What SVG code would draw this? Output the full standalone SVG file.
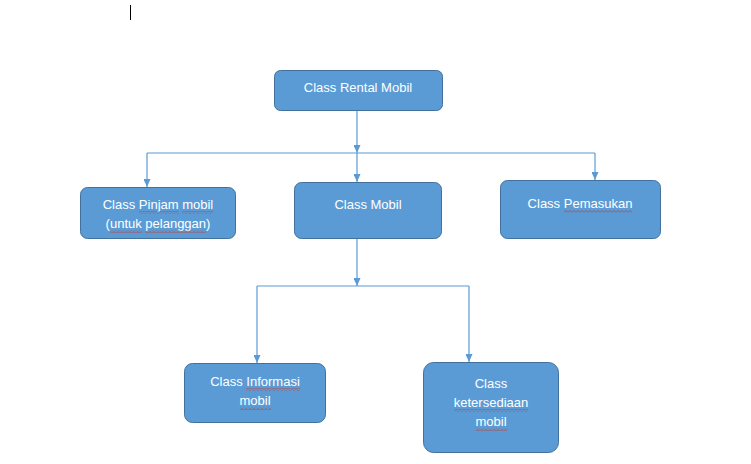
<svg xmlns="http://www.w3.org/2000/svg" width="751" height="464" viewBox="0 0 751 464">
<style>
.node rect.box{fill:#5B9BD5;stroke:#41719C;stroke-width:1}
.node text{font-family:"Liberation Sans",Arial,sans-serif;font-size:13px;fill:#FFFFFF;text-anchor:middle}
.conn line{stroke:#5B9BD5;stroke-width:1.2;fill:none}
.arr{marker-end:url(#ah)}
.sq{fill:url(#wave)}
</style>
<defs>
<marker id="ah" viewBox="0 0 8 7" refX="8" refY="3.5" markerWidth="8" markerHeight="7" markerUnits="userSpaceOnUse" orient="auto">
<path d="M0,0 L8,3.5 L0,7 Z" fill="#5B9BD5"/>
</marker>
<pattern id="wave" x="0" y="0" width="4" height="3" patternUnits="userSpaceOnUse">
<path d="M0,2.5 L2,0.5 L4,2.5" fill="none" stroke="#C0392B" stroke-width="0.8"/>
</pattern>
</defs>
<rect width="751" height="464" fill="#FFFFFF"/>
<line x1="130.5" y1="5" x2="130.5" y2="20" stroke="#000000" stroke-width="1"/>
<g id="connectors" class="conn">
<line class="arr" x1="357" y1="111" x2="357" y2="153"/>
<line class="arr" x1="357" y1="153" x2="357" y2="182"/>
<line x1="147" y1="153" x2="595" y2="153"/>
<line class="arr" x1="147" y1="153" x2="147" y2="187"/>
<line class="arr" x1="595" y1="153" x2="595" y2="180"/>
<line class="arr" x1="357" y1="239" x2="357" y2="286"/>
<line x1="257" y1="286" x2="469" y2="286"/>
<line class="arr" x1="257" y1="286" x2="257" y2="363"/>
<line class="arr" x1="469" y1="286" x2="469" y2="362"/>
</g>
<g id="node-rental" class="node">
<rect class="box" x="274.5" y="70.5" width="168" height="40" rx="6"/>
<text x="358" y="92">Class Rental Mobil</text>
</g>
<g id="node-pinjam" class="node">
<rect class="box" x="80.5" y="187.5" width="155" height="51" rx="7"/>
<text x="158" y="209">Class Pinjam mobil</text>
<text x="158" y="228">(untuk pelanggan)</text>
<rect class="sq" x="139" y="211" width="40" height="3"/>
<rect class="sq" x="182" y="211" width="31" height="3"/>
<rect class="sq" x="110" y="230" width="32" height="3"/>
<rect class="sq" x="145" y="230" width="61" height="3"/>
</g>
<g id="node-mobil" class="node">
<rect class="box" x="294.5" y="182.5" width="147" height="56" rx="7"/>
<text x="368" y="209">Class Mobil</text>
</g>
<g id="node-pemasukan" class="node">
<rect class="box" x="500.5" y="180.5" width="160" height="58" rx="7"/>
<text x="580" y="208">Class Pemasukan</text>
<rect class="sq" x="564" y="210" width="68" height="3"/>
</g>
<g id="node-informasi" class="node">
<rect class="box" x="184.5" y="363.5" width="141" height="59" rx="8"/>
<text x="255" y="386">Class Informasi</text>
<text x="255" y="405">mobil</text>
<rect class="sq" x="246" y="388" width="54" height="3"/>
<rect class="sq" x="240" y="407" width="31" height="3"/>
</g>
<g id="node-ketersediaan" class="node">
<rect class="box" x="423.5" y="362.5" width="135" height="90" rx="10"/>
<text x="491" y="388">Class</text>
<text x="491" y="407">ketersediaan</text>
<text x="491" y="426">mobil</text>
<rect class="sq" x="454" y="409" width="74" height="3"/>
<rect class="sq" x="476" y="428" width="31" height="3"/>
</g>
</svg>
